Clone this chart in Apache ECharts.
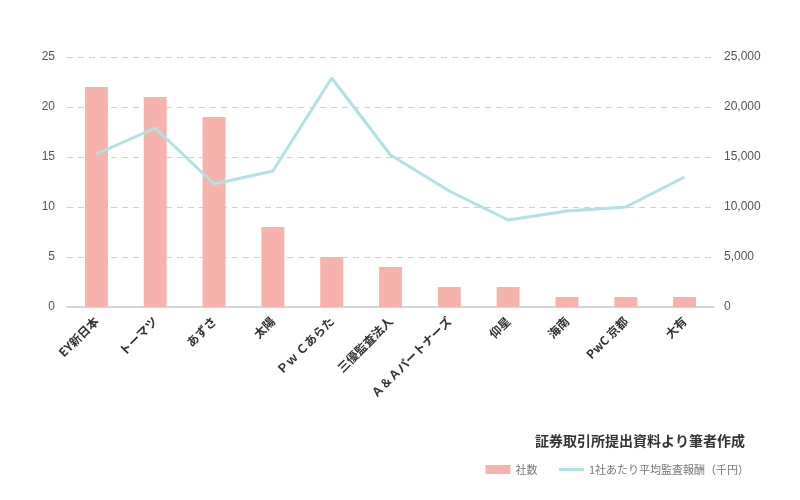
<!DOCTYPE html>
<html>
<head>
<meta charset="utf-8">
<script src="https://cdn.jsdelivr.net/npm/echarts@6/dist/echarts.min.js"></script>
<style>
  html, body { margin: 0; padding: 0; background: #fff; }
  #chart { width: 800px; height: 500px; }
</style>
</head>
<body>
<div id="chart"></div>
<script>
    var firms = ['EY新日本', 'トーマツ', 'あずさ', '太陽', 'Ｐｗ Ｃあらた', '三優監査法人', 'Ａ＆Ａパートナーズ', '仰星', '海南', 'PwC 京都', '大有'];
    var companyCounts = [22, 21, 19, 8, 5, 4, 2, 2, 1, 1, 1];
    var avgFees = [15300, 17900, 12300, 13600, 22900, 15200, 11600, 8700, 9600, 10000, 13000];

    var FONT = '"Noto Sans CJK JP", "Noto Sans", sans-serif';
    var NUM_FONT = '"Liberation Sans", Arial, sans-serif';

    var chart = echarts.init(document.getElementById('chart'));

    chart.setOption({
        textStyle: { fontFamily: FONT },
        animation: false,
        title: {
            text: '証券取引所提出資料より筆者作成',
            right: 50,
            top: 429,
            textStyle: { fontSize: 14, fontWeight: 'bold', color: '#333', fontFamily: FONT }
        },
        legend: {
            right: 46,
            top: 459,
            itemGap: 20,
            itemWidth: 25,
            itemHeight: 9,
            textStyle: { color: '#777', fontSize: 11, fontFamily: FONT },
            data: [
                { name: '社数', icon: 'rect' },
                { name: '1社あたり平均監査報酬（千円）', itemStyle: { opacity: 0 }, lineStyle: { width: 3 } }
            ]
        },
        grid: { left: 67, right: 86, top: 57, bottom: 193 },
        xAxis: {
            type: 'category',
            data: firms,
            axisTick: { show: false },
            axisLine: { lineStyle: { color: '#d6d6d6', width: 2 } },
            axisLabel: {
                rotate: 45,
                interval: 0,
                margin: 12,
                color: '#333',
                fontSize: 12,
                fontWeight: 'bold',
                fontFamily: FONT
            }
        },
        yAxis: [
            {
                type: 'value',
                min: 0,
                max: 25,
                interval: 5,
                axisLine: { show: false },
                axisTick: { show: false },
                axisLabel: { color: '#555', fontSize: 12, margin: 12, fontFamily: NUM_FONT },
                splitLine: { lineStyle: { type: [6, 5], color: '#d0d0d0', width: 1 } }
            },
            {
                type: 'value',
                min: 0,
                max: 25000,
                interval: 5000,
                axisLine: { show: false },
                axisTick: { show: false },
                axisLabel: {
                    color: '#555',
                    fontSize: 12,
                    margin: 10,
                    fontFamily: NUM_FONT,
                    formatter: function (v) { return v.toLocaleString('en-US'); }
                },
                splitLine: { show: false }
            }
        ],
        series: [
            {
                name: '社数',
                type: 'bar',
                data: companyCounts,
                barWidth: '39%',
                itemStyle: { color: '#f6b3ac' }
            },
            {
                name: '1社あたり平均監査報酬（千円）',
                type: 'line',
                yAxisIndex: 1,
                data: avgFees,
                symbol: 'none',
                lineStyle: { color: '#aee2e5', width: 3 },
                itemStyle: { color: '#aee2e5' }
            }
        ]
    });
</script>
</body>
</html>
